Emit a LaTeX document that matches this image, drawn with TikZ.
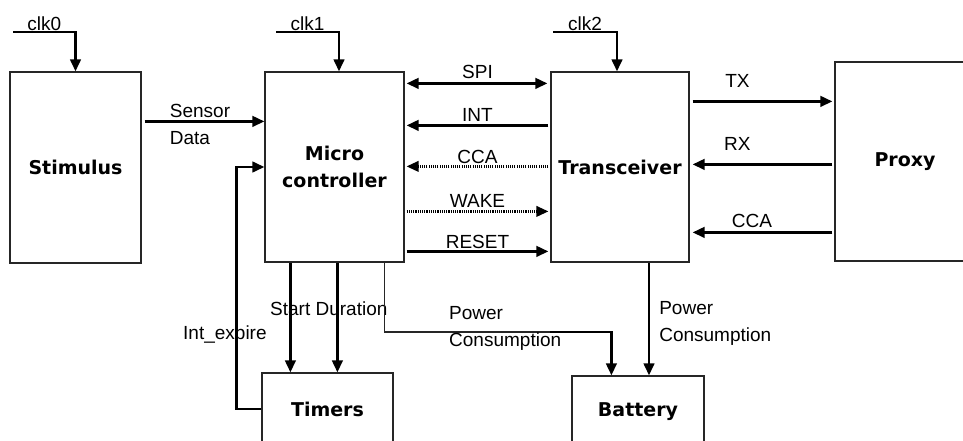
\documentclass[tikz,border=0pt]{standalone}
\usepackage{fontspec}
\setmainfont{Liberation Sans}
\newfontfamily\blockfont{DejaVu Sans}
\usetikzlibrary{arrows.meta,calc}

\begin{document}
\begin{tikzpicture}[
    x=1pt, y=-1pt,
    font=\fontsize{19}{27}\selectfont,
    block/.style  ={draw=black!85, line width=1.2pt, align=center, inner sep=0pt, font=\blockfont\bfseries\fontsize{19}{27}\selectfont},
    lbl/.style    ={inner sep=0pt, align=left},
    sig/.style    ={-{Triangle[length=12pt,width=10.5pt]}, line width=2.6pt, black},
    dotsig/.style ={sig, line width=2.2pt, dash pattern=on 1.1pt off 1.1pt},
    bothsig/.style={{Triangle[length=12pt,width=10.5pt]}-{Triangle[length=12pt,width=10.5pt]}, line width=2.6pt, black},
    wire/.style   ={line width=1.2pt, black!85},
  ]
  \useasboundingbox (0,0) rectangle (963,441);
  % blocks: top row shares one top edge, proxy and bottom row run past the page
  \node[block, minimum width=131pt, minimum height=191pt] (sy-stim)  at (75.5,167.5) {Stimulus};
  \node[block, minimum width=139pt, minimum height=190pt] (sy-mcu)   at (334.5,167)  {Micro\\controller};
  \node[block, minimum width=138pt, minimum height=190pt] (sy-trx)   at (620,167)    {Transceiver};
  \node[block, minimum width=140pt, minimum height=199pt] (sy-proxy) at (905,161.5)  {Proxy};
  \node[block, minimum width=131pt, minimum height=72pt]  (sy-tim)   at (327.5,409)  {Timers};
  \node[block, minimum width=132pt, minimum height=72pt]  (sy-bat)   at (638,412)    {Battery};
  % clocks
  \coordinate (clk0-in) at (13,32);
  \coordinate (clk1-in) at (276,32);
  \coordinate (clk2-in) at (553,32);
  \draw[sig] (clk0-in) -| node[pos=0.25, above, lbl, inner sep=0.5pt]{clk0} (sy-stim.north);
  \draw[sig] (clk1-in) -| node[pos=0.25, above, lbl, inner sep=0.5pt]{clk1} ([xshift=4.5pt]sy-mcu.north);
  \draw[sig] (clk2-in) -| node[pos=0.25, above, lbl, inner sep=0.5pt]{clk2} ([xshift=-3pt]sy-trx.north);
  % stimulus to microcontroller
  \draw[sig, shorten <=3pt] ([yshift=-50pt]sy-stim.north east) --
    node[pos=0.22, anchor=south west, lbl, yshift=2pt]{Sensor}
    node[pos=0.22, anchor=north west, lbl, yshift=-9pt]{Data} ([yshift=-50pt]sy-mcu.north west);
  % microcontroller <-> transceiver bus
  \draw[bothsig, shorten <=2pt, shorten >=3pt] ([yshift=-12pt]sy-mcu.north east) -- node[above=3pt, lbl]{SPI} ([yshift=-12pt]sy-trx.north west);
  \draw[sig, shorten <=2pt, shorten >=2pt] ([yshift=-54pt]sy-trx.north west) -- node[above=3pt, lbl]{INT} ([yshift=-54pt]sy-mcu.north east);
  \draw[dotsig, shorten <=2pt, shorten >=2pt] ([yshift=-95pt]sy-trx.north west) -- node[above=2pt, lbl]{CCA} ([yshift=-95pt]sy-mcu.north east);
  \draw[dotsig, shorten <=2pt, shorten >=2pt] ([yshift=-140pt]sy-mcu.north east) -- node[above=3pt, lbl]{WAKE} ([yshift=-140pt]sy-trx.north west);
  \draw[sig, shorten <=2pt, shorten >=2pt] ([yshift=-180pt]sy-mcu.north east) -- node[above=1pt, lbl]{RESET} ([yshift=-180pt]sy-trx.north west);
  % transceiver <-> proxy
  \draw[sig, shorten <=3pt, shorten >=2pt] ([yshift=-30pt]sy-trx.north east) -- node[pos=0.33, above=13pt, lbl]{TX} ([yshift=-40pt]sy-proxy.north west);
  \draw[sig, shorten <=2pt, shorten >=3pt] ([yshift=-103pt]sy-proxy.north west) -- node[pos=0.67, above=13pt, lbl]{RX} ([yshift=-93pt]sy-trx.north east);
  \draw[sig, shorten <=2pt, shorten >=3pt] ([yshift=-171pt]sy-proxy.north west) -- node[pos=0.57, above=3pt, lbl]{CCA} ([yshift=-161pt]sy-trx.north east);
  % microcontroller to timers, and the expiry back
  \draw[sig] ([xshift=26pt]sy-mcu.south west) -- ([xshift=26pt]sy-mcu.south west |- sy-tim.north);
  \draw[sig] ([xshift=73pt]sy-mcu.south west) -- ([xshift=73pt]sy-mcu.south west |- sy-tim.north);
  \node[lbl, anchor=base west] (lb-start) at (270,315) {Start Duration};
  \draw[sig] (sy-tim.west) -- ++(-25,0) |- (sy-mcu.west);
  \node[lbl, anchor=base west] (lb-expire) at (183,339) {Int\_expire};
  % power to the battery
  \coordinate (pw-bend) at (550,332);
  \draw[wire] ([xshift=120pt]sy-mcu.south west) |- (pw-bend);
  \draw[sig] (pw-bend) -| ([xshift=40pt]sy-bat.north west);
  \node[lbl, anchor=north west] (lb-pw-mcu) at (449,306) {Power\\Consumption};
  \draw[sig] ([xshift=29pt]sy-trx.south) -- node[midway, right=9pt, lbl, yshift=-4pt]{Power\\Consumption} ([xshift=29pt]sy-trx.south |- sy-bat.north);
\end{tikzpicture}
\end{document}
